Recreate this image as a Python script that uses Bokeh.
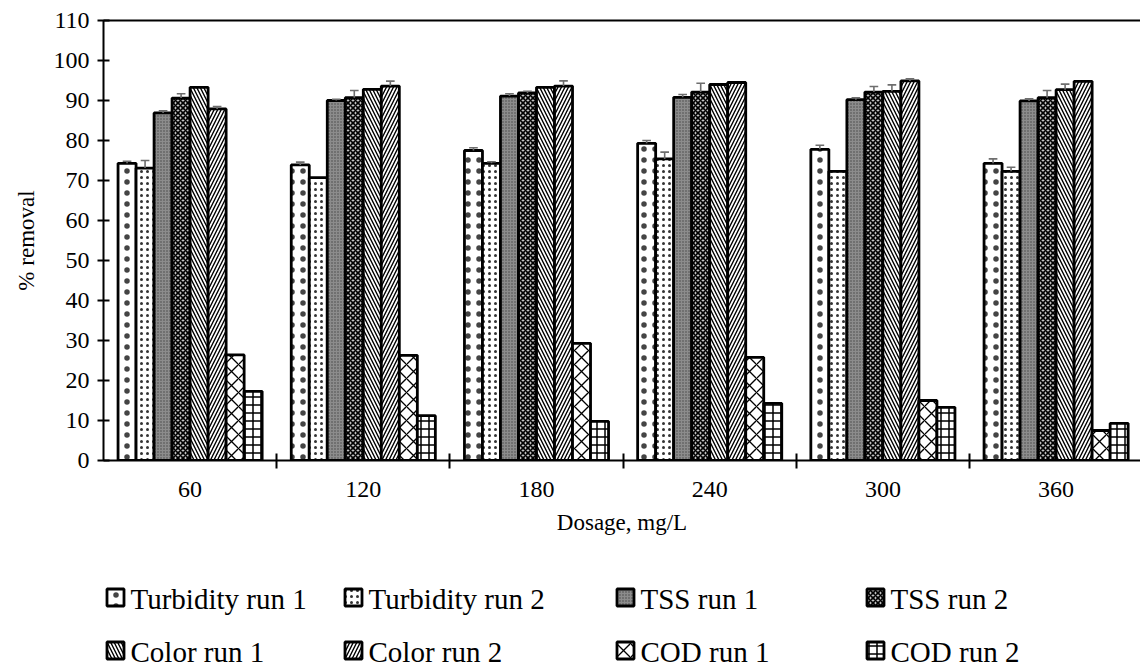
from bokeh.plotting import figure
from bokeh.layouts import column
from bokeh.models import Range1d, FixedTicker, LinearAxis
from bokeh.core.properties import value
from bokeh.embed import file_html
from bokeh.resources import INLINE

dosages = ["60", "120", "180", "240", "300", "360"]
series_names = ["Turbidity run 1", "Turbidity run 2", "TSS run 1", "TSS run 2",
                "Color run 1", "Color run 2", "COD run 1", "COD run 2"]

turbidity_run1 = [74.3, 73.9, 77.5, 79.3, 77.8, 74.3]
turbidity_run2 = [73.1, 70.7, 74.3, 75.4, 72.3, 72.3]
tss_run1 = [86.9, 90.0, 91.1, 90.8, 90.2, 89.9]
tss_run2 = [90.6, 90.7, 91.9, 92.1, 92.1, 90.7]
color_run1 = [93.3, 92.8, 93.3, 94.0, 92.3, 92.7]
color_run2 = [87.9, 93.6, 93.6, 94.5, 94.9, 94.8]
cod_run1 = [26.4, 26.3, 29.3, 25.8, 15.0, 7.5]
cod_run2 = [17.3, 11.2, 9.8, 14.3, 13.3, 9.3]

turbidity_run1_err = [0.5, 0.7, 0.7, 0.7, 1.0, 1.1]
turbidity_run2_err = [1.9, 0.0, 0.4, 1.7, 0.0, 1.0]
tss_run1_err = [0.5, 0.3, 0.6, 0.7, 0.5, 0.5]
tss_run2_err = [1.1, 1.8, 0.4, 2.2, 1.4, 1.8]
color_run1_err = [0.0, 0.0, 0.0, 0.0, 1.6, 1.4]
color_run2_err = [0.6, 1.25, 1.3, 0.0, 0.5, 0.0]
cod_run1_err = [0, 0, 0, 0, 0, 0]
cod_run2_err = [0, 0, 0, 0, 0, 0]

values = [turbidity_run1, turbidity_run2, tss_run1, tss_run2,
          color_run1, color_run2, cod_run1, cod_run2]
errors = [turbidity_run1_err, turbidity_run2_err, tss_run1_err, tss_run2_err,
          color_run1_err, color_run2_err, cod_run1_err, cod_run2_err]

styles = [
    dict(fill_color="white", hatch_pattern="dot", hatch_scale=11, hatch_weight=0.6, hatch_color="#444444"),
    dict(fill_color="white", hatch_pattern="dot", hatch_scale=6, hatch_weight=0.7, hatch_color="#333333"),
    dict(fill_color="#8c8c8c", hatch_pattern="dot", hatch_scale=3, hatch_weight=1.0, hatch_color="#444444"),
    dict(fill_color="#c4c4c4", hatch_pattern="diagonal_cross", hatch_scale=5, hatch_weight=1.6, hatch_color="black"),
    dict(fill_color="white", hatch_pattern="left_diagonal_line", hatch_scale=7, hatch_weight=1.4, hatch_color="black"),
    dict(fill_color="white", hatch_pattern="right_diagonal_line", hatch_scale=7, hatch_weight=1.4, hatch_color="black"),
    dict(fill_color="white", hatch_pattern="diagonal_cross", hatch_scale=14, hatch_weight=1.3, hatch_color="black"),
    dict(fill_color="white", hatch_pattern="cross", hatch_scale=8, hatch_weight=1.5, hatch_color="black"),
]

FONT = "Liberation Serif"
n_groups = len(dosages)
n_series = len(series_names)
bar_w = 0.104
centers = [i + 0.5 for i in range(n_groups)]

p = figure(width=1140, height=545, output_backend="svg", toolbar_location=None,
           x_range=Range1d(0, 1037 / 173.2), y_range=Range1d(0, 110),
           min_border_left=103, min_border_right=0, min_border_top=20, min_border_bottom=85)
p.background_fill_color = "white"
p.border_fill_color = "white"
p.outline_line_color = None
p.xgrid.visible = False
p.ygrid.visible = False

for j in range(n_series):
    xs = [c + (j - (n_series - 1) / 2) * bar_w for c in centers]
    p.vbar(x=xs, top=values[j], bottom=0, width=bar_w, line_color="black", line_width=2.8, **styles[j])

for j in range(n_series):
    xs = [c + (j - (n_series - 1) / 2) * bar_w for c in centers]
    ex, ey0, ey1, cx0, cx1, cy = [], [], [], [], [], []
    for x, v, e in zip(xs, values[j], errors[j]):
        if e > 0:
            ex.append(x); ey0.append(v); ey1.append(v + e)
            cx0.append(x - 0.025); cx1.append(x + 0.025); cy.append(v + e)
    if ex:
        p.segment(x0=ex, y0=ey0, x1=ex, y1=ey1, line_color="#6e6e6e", line_width=1.6)
        p.segment(x0=cx0, y0=cy, x1=cx1, y1=cy, line_color="#6e6e6e", line_width=1.6)

# axes
xa = p.xaxis[0]
xa.ticker = FixedTicker(ticks=centers, minor_ticks=[1, 2, 3, 4, 5])
xa.major_label_overrides = {c: d for c, d in zip(centers, dosages)}
xa.major_tick_line_color = None
xa.minor_tick_line_color = "black"
xa.minor_tick_line_width = 2
xa.minor_tick_in = 7
xa.minor_tick_out = 8
xa.axis_line_width = 2
xa.major_label_text_font = FONT
xa.major_label_text_font_size = "24px"
xa.major_label_text_color = "black"
xa.major_label_standoff = 13
xa.axis_label = "Dosage, mg/L"
xa.axis_label_text_font = FONT
xa.axis_label_text_font_size = "23px"
xa.axis_label_text_font_style = "normal"
xa.axis_label_text_color = "black"
xa.axis_label_standoff = 10

ya = p.yaxis[0]
ya.ticker = FixedTicker(ticks=list(range(0, 111, 10)))
ya.major_tick_in = 6
ya.major_tick_out = 6
ya.major_tick_line_width = 2
ya.minor_tick_line_color = None
ya.axis_line_width = 2
ya.major_label_text_font = FONT
ya.major_label_text_font_size = "24px"
ya.major_label_text_color = "black"
ya.major_label_standoff = 8
ya.axis_label = "% removal"
ya.axis_label_text_font = FONT
ya.axis_label_text_font_size = "23px"
ya.axis_label_text_font_style = "normal"
ya.axis_label_text_color = "black"
ya.axis_label_standoff = 12

top_axis = LinearAxis(axis_line_width=2, major_tick_line_color=None, minor_tick_line_color=None,
                      major_label_text_font_size="0px", major_label_standoff=0)
top_axis.ticker = FixedTicker(ticks=[])
p.add_layout(top_axis, "above")

# legend as a separate panel (its frame is aligned with the main frame: x from 103 to 1140)
lg = figure(width=1140, height=121, output_backend="svg", toolbar_location=None,
            x_range=Range1d(103, 1140), y_range=Range1d(666, 545),
            min_border=0, min_border_left=103, min_border_right=0, min_border_top=0, min_border_bottom=0)
lg.axis.visible = False
lg.grid.visible = False
lg.outline_line_color = None
lg.background_fill_color = "white"
lg.border_fill_color = "white"

col_x = [106, 344, 616, 866]
row_y = [597, 650]
for j, name in enumerate(series_names):
    cx = col_x[j % 4]
    cy = row_y[j // 4]
    lg.rect(x=[cx + 9], y=[cy], width=17, height=17, line_color="black", line_width=2.8, **styles[j])
    lg.text(x=[cx + 24], y=[cy + 1], text=[name], text_font=value(FONT), text_font_size="29px",
            text_baseline="middle", text_align="left", text_color="black")

layout = column(p, lg, spacing=0)
open("out.html", "w").write(file_html(layout, INLINE))
